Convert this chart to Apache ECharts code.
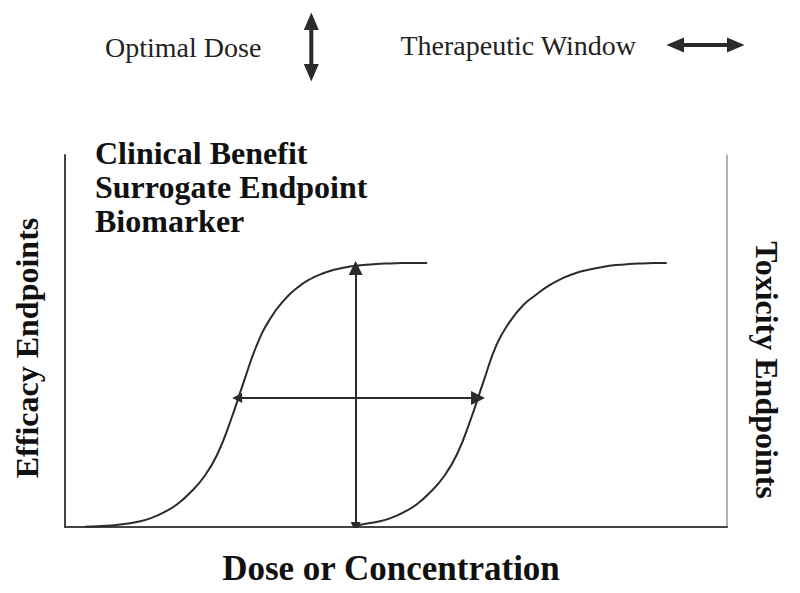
<!DOCTYPE html>
<html>
<head>
<meta charset="utf-8">
<script src="https://cdn.jsdelivr.net/npm/echarts@6/dist/echarts.min.js"></script>
<style>html,body{margin:0;padding:0;background:#fff;}#c{width:800px;height:593px;}</style>
</head>
<body>
<div id="c"></div>
<script>
// Efficacy curve (left sigmoid)
var efficacyX = [3, 5, 7, 9, 11, 13, 15, 17, 19, 21, 23, 25, 27, 29, 31, 33, 35, 37, 39, 41, 43, 45, 47, 49, 51, 53, 54.7];
var efficacyY = [0.1, 0.2, 0.4, 0.8, 1.4, 2.4, 4.0, 6.2, 9.4, 13.5, 19.5, 28.5, 39.0, 49.0, 56.0, 60.8, 64.2, 66.6, 68.2, 69.3, 70.0, 70.4, 70.7, 70.85, 70.95, 71.0, 71.0];
// Toxicity curve (right sigmoid)
var toxicityX = [43.8, 45.2, 47.2, 49.2, 51.2, 53.2, 55.2, 57.2, 59.2, 61.2, 63.2, 65.2, 67.2, 69.2, 71.2, 73.2, 75.2, 77.2, 79.2, 81.2, 83.2, 85.2, 87.2, 89.2, 90.9];
var toxicityY = [0.3, 0.8, 1.4, 2.4, 4.0, 6.2, 9.4, 13.5, 19.5, 28.5, 39.0, 49.0, 55.2, 59.6, 62.5, 65.0, 66.9, 68.3, 69.2, 69.9, 70.4, 70.7, 70.85, 70.95, 71.0];
// Arrows
var optimalDoseX = 43.9, optimalDoseFrom = 0, optimalDoseTo = 69.6;
var windowY = 34.7, windowFrom = 26.0, windowTo = 62.4;
// Texts
var legendNames = ['Optimal Dose', 'Therapeutic Window'];
var annotationLines = ['Clinical Benefit', 'Surrogate Endpoint', 'Biomarker'];
var xName = 'Dose or Concentration';
var yLeftName = 'Efficacy Endpoints';
var yRightName = 'Toxicity Endpoints';

function zip(a, b) { return a.map(function (v, i) { return [v, b[i]]; }); }

var SERIF = "'Liberation Serif', 'Times New Roman', serif";
var INK = '#2b2b2b';
var tri = 'path://M5,0 L10,14 L0,14 Z';

var chart = echarts.init(document.getElementById('c'), null, { renderer: 'svg' });
chart.setOption({
  backgroundColor: '#fff',
  animation: false,
  title: {
    text: annotationLines.join('\n'),
    left: 95, top: 136, padding: 0,
    textStyle: { fontFamily: SERIF, fontWeight: 'bold', fontSize: 32, lineHeight: 34, color: '#111' }
  },
  legend: [
    {
      data: [legendNames[0]], left: 105, top: 14, padding: 0, align: 'right', selectedMode: false,
      itemWidth: 12, itemHeight: 64,
      icon: 'path://M6,0 L12,14 L7,14 L7,50 L12,50 L6,64 L0,50 L5,50 L5,14 L0,14 Z',
      textStyle: { fontFamily: SERIF, fontSize: 28, color: '#222', padding: [0, 39, 0, 0] }
    },
    {
      data: [legendNames[1]], left: 400, top: 31, padding: 0, align: 'right', selectedMode: false,
      itemWidth: 73, itemHeight: 12,
      icon: 'path://M0,6 L14,0 L14,5 L59,5 L59,0 L73,6 L59,12 L59,7 L14,7 L14,12 Z',
      textStyle: { fontFamily: SERIF, fontSize: 28, color: '#222', padding: [0, 28, 0, 0] }
    }
  ],
  grid: { left: 65, right: 73, top: 155, bottom: 66, containLabel: false },
  xAxis: {
    type: 'value', min: 0, max: 100,
    name: xName, nameLocation: 'middle', nameGap: 24,
    nameTextStyle: { fontFamily: SERIF, fontWeight: 'bold', fontSize: 35, color: '#111', padding: [0, 10, 0, 0] },
    axisLine: { show: true, lineStyle: { color: '#444', width: 2 } },
    axisTick: { show: false }, axisLabel: { show: false }, splitLine: { show: false }
  },
  yAxis: [
    {
      type: 'value', min: 0, max: 100, position: 'left',
      name: yLeftName, nameLocation: 'middle', nameGap: 22,
      nameTextStyle: { fontFamily: SERIF, fontWeight: 'bold', fontSize: 32, color: '#111', padding: [0, 14, 0, 0] },
      axisLine: { show: true, lineStyle: { color: '#444', width: 2 } },
      axisTick: { show: false }, axisLabel: { show: false }, splitLine: { show: false }
    },
    {
      type: 'value', min: 0, max: 100, position: 'right',
      name: yRightName, nameLocation: 'middle', nameGap: 24, nameRotate: -90,
      nameTextStyle: { fontFamily: SERIF, fontWeight: 'bold', fontSize: 32, color: '#111', padding: [0, 0, 0, 58] },
      axisLine: { show: true, lineStyle: { color: '#999', width: 1.5 } },
      axisTick: { show: false }, axisLabel: { show: false }, splitLine: { show: false }
    }
  ],
  series: [
    {
      name: 'Efficacy', type: 'line', data: zip(efficacyX, efficacyY), smooth: 0.5,
      showSymbol: false, lineStyle: { color: INK, width: 2 }, itemStyle: { color: INK }, z: 3
    },
    {
      name: 'Toxicity', type: 'line', data: zip(toxicityX, toxicityY), smooth: 0.5,
      showSymbol: false, lineStyle: { color: INK, width: 2 }, itemStyle: { color: INK }, z: 3
    },
    {
      name: legendNames[0], type: 'lines', coordinateSystem: 'cartesian2d',
      symbol: [tri, tri], symbolSize: [10, 14], symbolOffset: [0, '50%'],
      lineStyle: { color: INK, width: 2, opacity: 1 }, itemStyle: { color: INK }, color: INK,
      data: [{ coords: [[optimalDoseX, optimalDoseFrom], [optimalDoseX, optimalDoseTo]] }], z: 4
    },
    {
      name: legendNames[1], type: 'lines', coordinateSystem: 'cartesian2d',
      symbol: [tri, tri], symbolSize: [10, 14], symbolOffset: [0, '50%'],
      lineStyle: { color: INK, width: 2, opacity: 1 }, itemStyle: { color: INK }, color: INK,
      data: [{ coords: [[windowFrom, windowY], [windowTo, windowY]] }], z: 4
    }
  ]
});
</script>
</body>
</html>
